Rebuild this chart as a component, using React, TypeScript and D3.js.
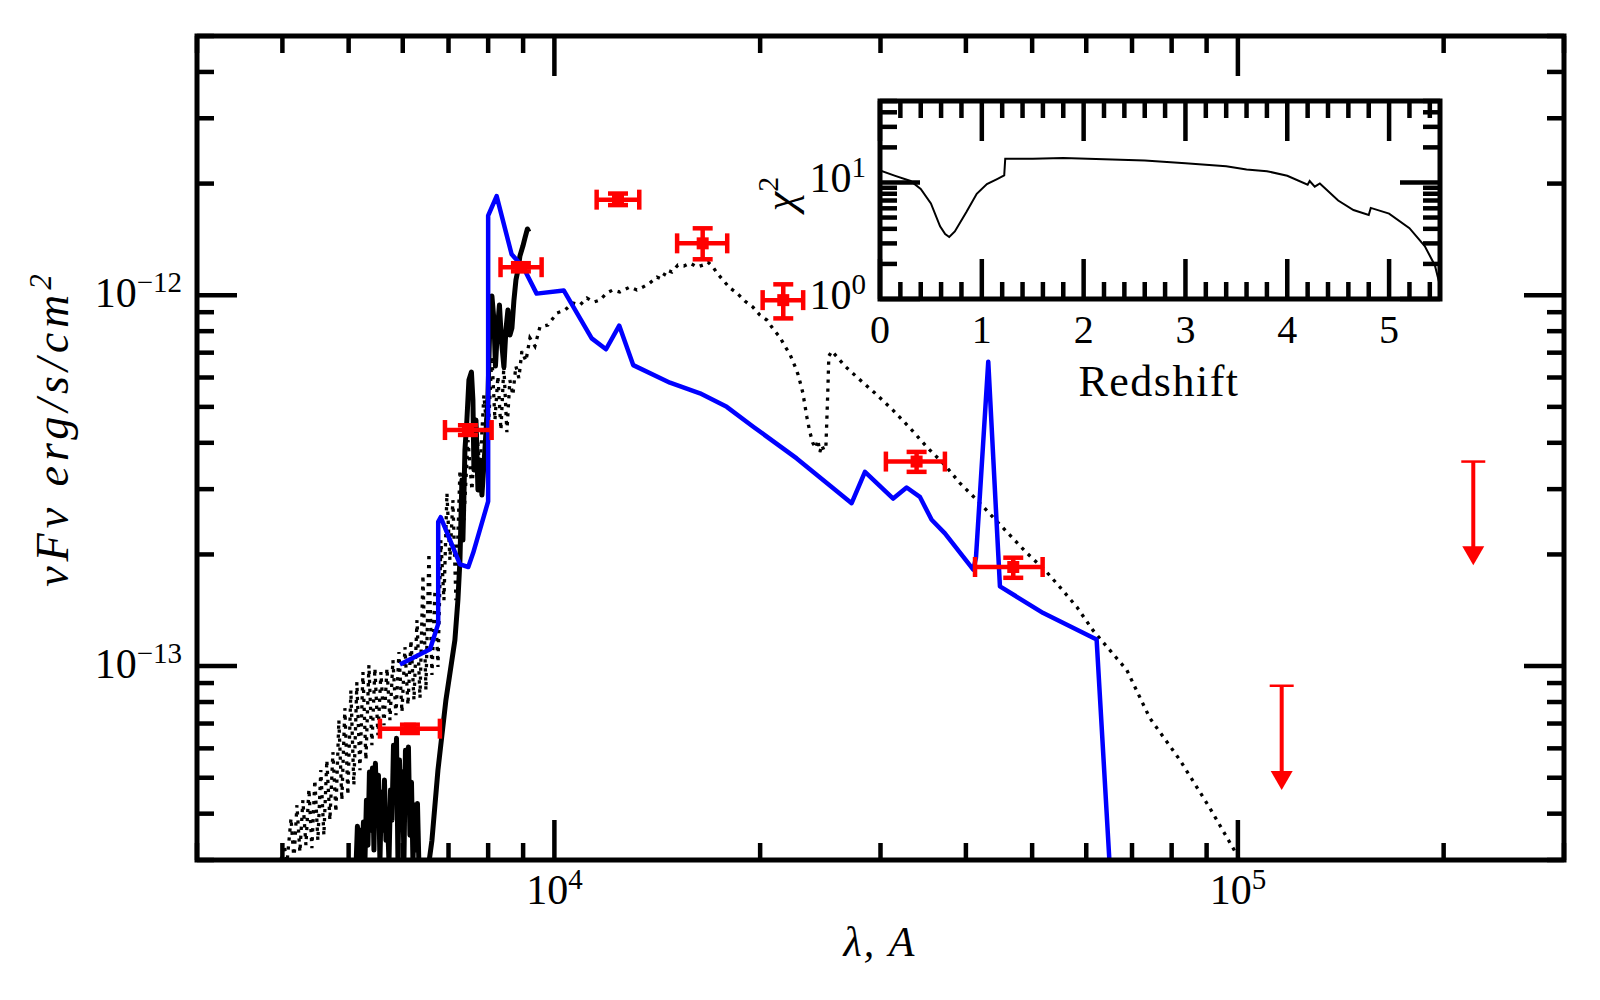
import React, { useEffect, useRef } from 'react';
import * as d3 from 'd3';

// fluxes below are given in units of 1e-13 erg/s/cm^2, wavelengths in Angstrom
const FLUX_UNIT = 1e-13;

// best-fit model (blue)
const blueLam = [5943, 6577, 6761, 6761, 6817, 7276, 7482, 7607, 8000, 8000, 8232, 8658, 9004, 9419, 10320, 11340, 11900, 12440, 13040, 14760, 16330, 17870, 19540, 22620, 27220, 28470, 31310, 32760, 34250, 35640, 37270, 41010, 41380, 43130, 44860, 51910, 62130, 65000];
const blueFlux = [1.01, 1.11, 1.30, 2.45, 2.52, 1.88, 1.85, 2.02, 2.78, 16.4, 18.5, 12.9, 11.9, 10.1, 10.3, 7.65, 7.15, 8.28, 6.48, 5.81, 5.44, 5.00, 4.42, 3.63, 2.75, 3.34, 2.83, 3.03, 2.86, 2.48, 2.28, 1.82, 1.96, 6.62, 1.64, 1.39, 1.18, 0.28];

// observed spectrum (thick black)
const solidLam = [5124, 5150, 5176, 5203, 5229, 5256, 5282, 5309, 5336, 5363, 5391, 5418, 5445, 5472, 5500, 5528, 5556, 5584, 5613, 5641, 5670, 5699, 5728, 5757, 5786, 5816, 5845, 5875, 5904, 5934, 5964, 5994, 6024, 6055, 6086, 6116, 6147, 6179, 6210, 6242, 6273, 6305, 6338, 6531, 6620, 6755, 6939, 7152, 7225, 7275, 7299, 7323, 7348, 7398, 7447, 7498, 7562, 7600, 7626, 7678, 7730, 7780, 7834, 7912, 7992, 8049, 8102, 8157, 8199, 8254, 8310, 8366, 8436, 8493, 8551, 8609, 8667, 8726, 8785, 8845, 8904, 8994, 9055, 9131, 9178];
const solidFlux = [0.282, 0.370, 0.296, 0.361, 0.300, 0.380, 0.296, 0.435, 0.329, 0.518, 0.361, 0.531, 0.319, 0.547, 0.384, 0.508, 0.296, 0.457, 0.361, 0.493, 0.339, 0.389, 0.296, 0.463, 0.384, 0.612, 0.435, 0.639, 0.296, 0.558, 0.409, 0.518, 0.296, 0.593, 0.435, 0.605, 0.350, 0.486, 0.296, 0.422, 0.319, 0.426, 0.282, 0.282, 0.339, 0.524, 0.810, 1.175, 1.506, 1.931, 2.476, 3.173, 2.186, 3.823, 4.607, 5.905, 6.206, 5.216, 3.377, 4.607, 2.983, 3.593, 2.892, 3.823, 5.216, 8.57, 9.95, 8.57, 6.44, 8.056, 9.41, 7.57, 6.40, 8.056, 9.12, 7.81, 8.155, 9.70, 10.99, 11.69, 12.76, 13.57, 14.26, 15.09, 14.81];

// template spectrum (dotted)
const dotLam = [3981, 4022, 4063, 4118, 4159, 4201, 4243, 4286, 4330, 4374, 4418, 4462, 4508, 4553, 4600, 4646, 4694, 4742, 4790, 4838, 4887, 4937, 4987, 5038, 5089, 5141, 5194, 5247, 5300, 5354, 5408, 5463, 5519, 5575, 5632, 5689, 5747, 5805, 5864, 5924, 5984, 6045, 6106, 6169, 6231, 6295, 6359, 6422, 6487, 6553, 6620, 6688, 6756, 6823, 6893, 6963, 7033, 7104, 7177, 7275, 7373, 7474, 7575, 7678, 7780, 7886, 7992, 8102, 8185, 8268, 8352, 8435, 8521, 8607, 8695, 8783, 8873, 8963, 9085, 9209, 9366, 9524, 9784, 10085, 10361, 10644, 10897, 11158, 11424, 11656, 11933, 12177, 12467, 12896, 13203, 13473, 13793, 14125, 14365, 14609, 14857, 15161, 15471, 15788, 16164, 16494, 16774, 17059, 17348, 17642, 18061, 18493, 18998, 19515, 19982, 20458, 20948, 21374, 21736, 22108, 22483, 22712, 22943, 23098, 23253, 23409, 23647, 23888, 24131, 24294, 24457, 24623, 24788, 24955, 25039, 25125, 25207, 25468, 26607, 27707, 29437, 31284, 33134, 35075, 37262, 39207, 41518, 43817, 46387, 49126, 52198, 54906, 58143, 61349, 64962, 68794, 74330, 82260, 91000, 100700];
const dotFlux = [0.300, 0.329, 0.296, 0.389, 0.300, 0.422, 0.315, 0.435, 0.329, 0.466, 0.323, 0.493, 0.339, 0.524, 0.350, 0.558, 0.384, 0.586, 0.404, 0.715, 0.435, 0.770, 0.449, 0.861, 0.478, 0.905, 0.524, 0.963, 0.558, 1.006, 0.612, 0.987, 0.651, 0.963, 0.693, 0.987, 0.715, 1.038, 0.737, 1.091, 0.751, 1.125, 0.785, 1.175, 0.810, 1.330, 0.820, 1.760, 0.861, 2.017, 0.946, 1.603, 0.994, 2.186, 1.506, 2.928, 1.931, 2.803, 1.506, 3.377, 2.476, 4.068, 2.983, 4.607, 3.377, 5.381, 4.068, 6.855, 4.607, 6.053, 4.330, 6.442, 4.276, 5.905, 5.381, 6.442, 5.979, 7.070, 6.645, 7.664, 7.293, 8.207, 8.309, 8.953, 9.120, 9.528, 9.408, 9.827, 9.585, 9.705, 10.14, 10.33, 10.20, 10.52, 10.33, 10.52, 10.79, 11.19, 11.06, 11.69, 11.55, 12.06, 11.99, 12.21, 11.91, 12.06, 12.29, 11.91, 11.40, 10.99, 10.46, 10.14, 9.645, 9.292, 8.842, 8.572, 8.055, 7.712, 7.293, 6.940, 6.442, 6.129, 5.726, 5.448, 5.055, 4.694, 4.276, 3.993, 3.871, 4.068, 3.776, 3.944, 3.823, 3.871, 4.607, 5.550, 6.855, 7.070, 6.442, 6.017, 5.448, 4.900, 4.384, 3.895, 3.483, 3.114, 2.803, 2.521, 2.255, 2.017, 1.815, 1.633, 1.442, 1.250, 1.104, 0.975, 0.724, 0.558, 0.414, 0.300];

// photometry with x (band width) and y errors
const photLam = [6147, 7473, 8933, 12390, 16480, 21620, 33880, 46920];
const photLamLo = [5556, 6917, 8341, 11530, 15120, 20170, 30550, 41250];
const photLamHi = [6800, 8094, 9579, 13310, 17900, 23120, 37270, 51800];
const photFlux = [0.678, 4.33, 11.9, 18.1, 13.8, 9.7, 3.56, 1.85];
const photFluxLo = [0.66, 4.2, 11.6, 17.5, 12.5, 8.66, 3.34, 1.73];
const photFluxHi = [0.695, 4.46, 12.2, 18.8, 15.15, 10.7, 3.78, 1.96];

// upper limits
const limLam = [115900, 221000];
const limFlux = [0.885, 3.56];
const limArrowTo = [0.463, 1.87];

// inset: chi^2 vs redshift
const chiZ = [0, 0.15, 0.3, 0.4, 0.5, 0.59, 0.64, 0.68, 0.735, 0.85, 0.95, 1.05, 1.15, 1.22, 1.23, 1.5, 1.8, 2.2, 2.6, 3.0, 3.4, 3.6, 3.8, 4.0, 4.2, 4.22, 4.27, 4.32, 4.5, 4.65, 4.8, 4.82, 5.0, 5.2, 5.35, 5.45, 5.5];
const chiVal = [12.7, 11.4, 10.3, 8.8, 6.6, 4.2, 3.6, 3.4, 3.8, 5.6, 8.0, 9.7, 10.7, 11.5, 16.0, 16.0, 16.2, 15.8, 15.4, 14.6, 13.8, 12.9, 12.5, 11.4, 9.55, 10.3, 9.2, 9.8, 7.0, 5.8, 5.25, 6.05, 5.4, 4.05, 2.85, 1.94, 1.3];

// labelled ticks
const xMajorTicks = [1e4, 1e5];
const yMajorTicks = [1e-13, 1e-12];
const zMajorTicks = [0, 1, 2, 3, 4, 5];
const chiMajorTicks = [1, 10];

const FONT = "'Liberation Serif', 'DejaVu Serif', serif";

const isDecade = (v: number) => Math.abs(Math.log10(v) - Math.round(Math.log10(v))) < 1e-6;
const expText = (v: number) => String(Math.round(Math.log10(v))).replace('-', '\u2212');

const SedChart: React.FC = () => {
    const ref = useRef<SVGSVGElement | null>(null);

    useEffect(() => {
        const svg = d3.select(ref.current);
        svg.selectAll('*').remove();
        svg.style('font-family', FONT);

        const m = { left: 197, right: 1564, top: 36, bottom: 860 };
        const x = d3.scaleLog().domain([3000, 3e5]).range([m.left, m.right]);
        const y = d3.scaleLog().domain([3e-14, 5e-12]).range([m.bottom, m.top]);

        const defs = svg.append('defs');
        defs.append('clipPath').attr('id', 'main-clip').append('rect')
            .attr('x', m.left).attr('y', m.top)
            .attr('width', m.right - m.left).attr('height', m.bottom - m.top);

        const plot = svg.append('g').attr('clip-path', 'url(#main-clip)');
        const line = d3.line<[number, number]>()
            .x(d => x(d[0]))
            .y(d => y(d[1] * FLUX_UNIT));

        plot.append('path')
            .datum(d3.zip(dotLam, dotFlux) as [number, number][])
            .attr('d', line)
            .attr('fill', 'none').attr('stroke', '#000')
            .attr('stroke-width', 3.3).attr('stroke-dasharray', '3.3,5.7');

        plot.append('path')
            .datum(d3.zip(solidLam, solidFlux) as [number, number][])
            .attr('d', line)
            .attr('fill', 'none').attr('stroke', '#000')
            .attr('stroke-width', 5).attr('stroke-linejoin', 'round');

        plot.append('path')
            .datum(d3.zip(blueLam, blueFlux) as [number, number][])
            .attr('d', line)
            .attr('fill', 'none').attr('stroke', '#0000ff')
            .attr('stroke-width', 4.5).attr('stroke-linejoin', 'round');

        // photometric points
        const eb = plot.append('g').attr('stroke', '#ff0000').attr('stroke-width', 4.5);
        photLam.forEach((lam, i) => {
            const cx = x(lam);
            const cy = y(photFlux[i] * FLUX_UNIT);
            const x0 = x(photLamLo[i]);
            const x1 = x(photLamHi[i]);
            const y0 = y(photFluxLo[i] * FLUX_UNIT);
            const y1 = y(photFluxHi[i] * FLUX_UNIT);
            eb.append('line').attr('x1', x0).attr('x2', x1).attr('y1', cy).attr('y2', cy);
            eb.append('line').attr('x1', cx).attr('x2', cx).attr('y1', y0).attr('y2', y1);
            [x0, x1].forEach(px => eb.append('line')
                .attr('x1', px).attr('x2', px).attr('y1', cy - 10).attr('y2', cy + 10));
            [y0, y1].forEach(py => eb.append('line')
                .attr('x1', cx - 10).attr('x2', cx + 10).attr('y1', py).attr('y2', py));
            eb.append('rect')
                .attr('x', cx - 6).attr('y', cy - 6).attr('width', 12).attr('height', 12)
                .attr('fill', '#ff0000').attr('stroke', 'none');
        });

        // upper limits
        const ul = plot.append('g');
        limLam.forEach((lam, i) => {
            const cx = x(lam);
            const yTop = y(limFlux[i] * FLUX_UNIT);
            const yTip = y(limArrowTo[i] * FLUX_UNIT);
            ul.append('line').attr('x1', cx).attr('x2', cx).attr('y1', yTop).attr('y2', yTip - 14)
                .attr('stroke', '#ff0000').attr('stroke-width', 4);
            ul.append('line').attr('x1', cx - 12).attr('x2', cx + 12).attr('y1', yTop).attr('y2', yTop)
                .attr('stroke', '#ff0000').attr('stroke-width', 2.5);
            ul.append('path')
                .attr('d', `M${cx - 11},${yTip - 19}L${cx + 11},${yTip - 19}L${cx},${yTip}Z`)
                .attr('fill', '#ff0000');
        });

        // main ticks
        const ticks = svg.append('g').attr('stroke', '#000').attr('stroke-width', 4.5);
        x.ticks().forEach(v => {
            const len = isDecade(v) ? 40 : 17;
            const px = x(v);
            ticks.append('line').attr('x1', px).attr('x2', px).attr('y1', m.bottom).attr('y2', m.bottom - len);
            ticks.append('line').attr('x1', px).attr('x2', px).attr('y1', m.top).attr('y2', m.top + len);
        });
        y.ticks().forEach(v => {
            const len = isDecade(v) ? 40 : 17;
            const py = y(v);
            ticks.append('line').attr('x1', m.left).attr('x2', m.left + len).attr('y1', py).attr('y2', py);
            ticks.append('line').attr('x1', m.right).attr('x2', m.right - len).attr('y1', py).attr('y2', py);
        });

        svg.append('rect')
            .attr('x', m.left).attr('y', m.top)
            .attr('width', m.right - m.left).attr('height', m.bottom - m.top)
            .attr('fill', 'none').attr('stroke', '#000').attr('stroke-width', 5);

        // power-of-ten tick labels
        const powLabel = (px: number, py: number, v: number, anchor: string) => {
            const t = svg.append('text')
                .attr('x', px).attr('y', py)
                .attr('text-anchor', anchor)
                .attr('font-size', 42).attr('fill', '#000');
            t.append('tspan').text('10');
            t.append('tspan').attr('dy', -15).attr('font-size', 29).text(expText(v));
        };
        xMajorTicks.forEach(v => powLabel(x(v), 904, v, 'middle'));
        yMajorTicks.forEach(v => powLabel(182, y(v) + 12, v, 'end'));

        // axis titles
        svg.append('text')
            .attr('x', 880).attr('y', 956)
            .attr('text-anchor', 'middle')
            .attr('font-size', 42).attr('font-style', 'italic')
            .attr('letter-spacing', 2)
            .text('\u03bb, A');

        const yLab = svg.append('text')
            .attr('transform', 'translate(68,428) rotate(-90)')
            .attr('text-anchor', 'middle')
            .attr('font-size', 46).attr('font-style', 'italic')
            .attr('letter-spacing', 5);
        yLab.append('tspan').text('\u03bdF\u03bd erg/s/cm');
        yLab.append('tspan').attr('dy', -17).attr('font-size', 31).text('2');

        // inset
        const ins = { left: 880, right: 1440, top: 101, bottom: 299 };
        const zx = d3.scaleLinear().domain([0, 5.5]).range([ins.left, ins.right]);
        const zy = d3.scaleLog().domain([1, 50]).range([ins.bottom, ins.top]);

        svg.append('rect')
            .attr('x', ins.left).attr('y', ins.top)
            .attr('width', ins.right - ins.left).attr('height', ins.bottom - ins.top)
            .attr('fill', '#fff');

        defs.append('clipPath').attr('id', 'inset-clip').append('rect')
            .attr('x', ins.left).attr('y', ins.top)
            .attr('width', ins.right - ins.left).attr('height', ins.bottom - ins.top);

        const chiLine = d3.line<[number, number]>().x(d => zx(d[0])).y(d => zy(d[1]));
        svg.append('g').attr('clip-path', 'url(#inset-clip)')
            .append('path')
            .datum(d3.zip(chiZ, chiVal) as [number, number][])
            .attr('d', chiLine)
            .attr('fill', 'none').attr('stroke', '#000').attr('stroke-width', 2);

        const iticks = svg.append('g').attr('stroke', '#000').attr('stroke-width', 4.5);
        zx.ticks(30).forEach(v => {
            const len = zMajorTicks.includes(Math.round(v * 10) / 10) ? 40 : 17;
            const px = zx(v);
            iticks.append('line').attr('x1', px).attr('x2', px).attr('y1', ins.bottom).attr('y2', ins.bottom - len);
            iticks.append('line').attr('x1', px).attr('x2', px).attr('y1', ins.top).attr('y2', ins.top + len);
        });
        zy.ticks().forEach(v => {
            const len = isDecade(v) ? 40 : 17;
            const py = zy(v);
            iticks.append('line').attr('x1', ins.left).attr('x2', ins.left + len).attr('y1', py).attr('y2', py);
            iticks.append('line').attr('x1', ins.right).attr('x2', ins.right - len).attr('y1', py).attr('y2', py);
        });

        svg.append('rect')
            .attr('x', ins.left).attr('y', ins.top)
            .attr('width', ins.right - ins.left).attr('height', ins.bottom - ins.top)
            .attr('fill', 'none').attr('stroke', '#000').attr('stroke-width', 5);

        zMajorTicks.forEach(v => {
            svg.append('text')
                .attr('x', zx(v)).attr('y', 343)
                .attr('text-anchor', 'middle')
                .attr('font-size', 40).attr('fill', '#000')
                .text(String(v));
        });
        chiMajorTicks.forEach(v => powLabel(866, zy(v) + 10, v, 'end'));

        svg.append('text')
            .attr('x', 1159).attr('y', 396)
            .attr('text-anchor', 'middle')
            .attr('font-size', 44).attr('letter-spacing', 1.5)
            .text('Redshift');

        const chiLab = svg.append('text')
            .attr('transform', 'translate(795,194) rotate(-90)')
            .attr('text-anchor', 'middle')
            .attr('font-size', 44).attr('font-style', 'italic');
        chiLab.append('tspan').text('\u03c7');
        chiLab.append('tspan').attr('dy', -17).attr('font-size', 30).attr('font-style', 'normal').text('2');
    }, []);

    return (
        <div style={{ position: 'absolute', left: 0, top: 0 }}>
            <svg ref={ref} width={1600} height={1000} style={{ background: '#fff', display: 'block' }} />
        </div>
    );
};

export default function App() {
    return <SedChart />;
}
